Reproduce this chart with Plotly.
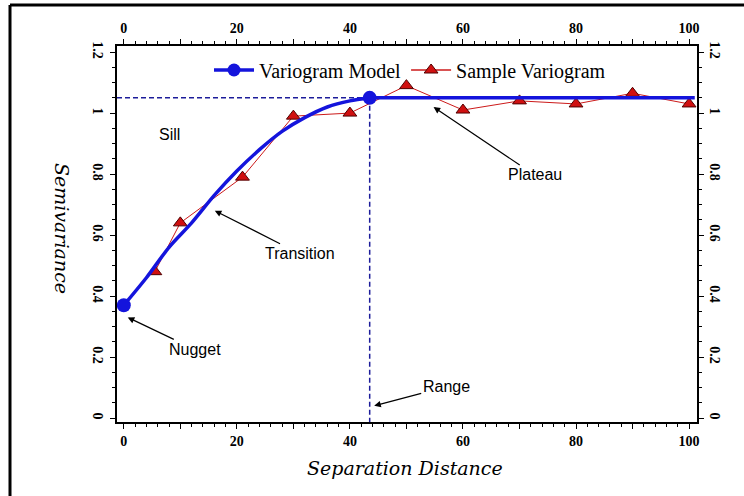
import plotly.graph_objects as go

# ---- data ----
model_x = [0, 4, 8, 12, 16, 20, 24, 28, 32, 36, 40, 43.5, 101]
model_y = [0.37, 0.46, 0.56, 0.64, 0.73, 0.81, 0.88, 0.94, 0.985, 1.02, 1.04, 1.05, 1.05]
model_pts_x = [0, 43.5]
model_pts_y = [0.37, 1.05]
sample_x = [5.5, 10, 21, 30, 40, 50, 60, 70, 80, 90, 100]
sample_y = [0.48, 0.64, 0.79, 0.99, 1.00, 1.09, 1.01, 1.04, 1.03, 1.065, 1.03]
sill = 1.05
range_d = 43.5
x_range = [-1.2, 101.4]
y_range = [-0.013, 1.22]
x_major = [0, 10, 20, 30, 40, 50, 60, 70, 80, 90, 100]
x_labels = ["0", "", "20", "", "40", "", "60", "", "80", "", "100"]
y_major = [0, 0.2, 0.4, 0.6, 0.8, 1.0, 1.2]
y_labels = ["0", "0.2", "0.4", "0.6", "0.8", "1", "1.2"]

BLUE = "#1414dc"
RED = "#cc1a1a"
NAVY = "#1c1c9a"

k = model_x.index(range_d)

fig = go.Figure()
# dashed sill / range guides
fig.add_trace(go.Scatter(x=[x_range[0], range_d], y=[sill, sill], mode="lines",
                         line=dict(color=NAVY, width=1.5, dash="5px,3px"), showlegend=False, hoverinfo="skip"))
fig.add_trace(go.Scatter(x=[range_d, range_d], y=[sill, y_range[0]], mode="lines",
                         line=dict(color=NAVY, width=1.5, dash="5px,3px"), showlegend=False, hoverinfo="skip"))
# sample variogram
fig.add_trace(go.Scatter(x=sample_x, y=sample_y, mode="lines+markers",
                         line=dict(color=RED, width=1),
                         marker=dict(symbol="triangle-up", size=12, color="#d01010",
                                     line=dict(color="#500000", width=1)),
                         showlegend=False))
# model curve (rising part smooth, plateau straight)
fig.add_trace(go.Scatter(x=model_x[:k + 1], y=model_y[:k + 1], mode="lines", line_shape="spline",
                         line=dict(color=BLUE, width=3.5, smoothing=0.8), showlegend=False))
fig.add_trace(go.Scatter(x=model_x[k:], y=model_y[k:], mode="lines",
                         line=dict(color=BLUE, width=3.5), showlegend=False))
fig.add_trace(go.Scatter(x=model_pts_x, y=model_pts_y, mode="markers",
                         marker=dict(symbol="circle", size=14, color=BLUE), showlegend=False))
# legend entries
fig.add_trace(go.Scatter(x=[None], y=[None], mode="lines+markers", name="Variogram Model",
                         line=dict(color=BLUE, width=3.5), marker=dict(size=13, color=BLUE)))
fig.add_trace(go.Scatter(x=[None], y=[None], mode="lines+markers", name="Sample Variogram",
                         line=dict(color=RED, width=1.5),
                         marker=dict(symbol="triangle-up", size=12, color="#d01010",
                                     line=dict(color="#500000", width=1))))
# invisible trace for mirrored axes
fig.add_trace(go.Scatter(x=x_range, y=y_range, xaxis="x2", yaxis="y2", mode="markers",
                         marker=dict(opacity=0), showlegend=False, hoverinfo="skip"))

tickfont = dict(family="Liberation Serif", size=14, color="black")
common_x = dict(range=x_range, tickmode="array", tickvals=x_major,
                ticktext=[f"<b>{t}</b>" if t else "" for t in x_labels],
                ticks="outside", ticklen=5, tickwidth=1.2, tickcolor="black",
                minor=dict(dtick=2, ticks="outside", ticklen=3, tickcolor="black", tickwidth=1),
                showline=True, linecolor="black", linewidth=2, showgrid=False, zeroline=False,
                tickfont=tickfont)
common_y = dict(range=y_range, tickmode="array", tickvals=y_major,
                ticktext=[f"<b>{t}</b>" for t in y_labels], tickangle=90,
                ticks="outside", ticklen=5, tickwidth=1.2, tickcolor="black",
                minor=dict(dtick=0.05, ticks="outside", ticklen=3, tickcolor="black", tickwidth=1),
                showline=True, linecolor="black", linewidth=2, showgrid=False, zeroline=False,
                tickfont=tickfont)

L, R, T, B = 117, 47, 46, 74
W, H = 744, 496
pw, ph = W - L - R, H - T - B

def px(xp):
    return (xp - L) / pw

def py(yp):
    return (H - B - yp) / ph

fig.update_layout(
    width=W, height=H, margin=dict(l=L, r=R, t=T, b=B),
    paper_bgcolor="white", plot_bgcolor="white",
    xaxis=dict(**common_x, side="bottom"),
    xaxis2=dict(**common_x, side="top", overlaying="x", anchor="y"),
    yaxis=dict(**common_y, side="left"),
    yaxis2=dict(**common_y, side="right", overlaying="y", anchor="x"),
    legend=dict(orientation="h", x=px(410), y=py(70), xanchor="center", yanchor="middle",
                font=dict(family="Liberation Serif", size=20, color="black"),
                bgcolor="rgba(255,255,255,0)", itemwidth=40),
    showlegend=True,
)

afont = dict(family="Liberation Sans", size=16, color="black")
arrow = dict(showarrow=True, arrowhead=2, arrowsize=1.1, arrowwidth=1.2, arrowcolor="black",
             font=afont, axref="pixel", ayref="pixel")
fig.add_annotation(x=16.1, y=0.68, text="Transition", ax=85, ay=43, **arrow)
fig.add_annotation(x=0.7, y=0.33, text="Nugget", ax=67, ay=32, **arrow)
fig.add_annotation(x=44.3, y=0.04, text="Range", ax=72, ay=-19, **arrow)
fig.add_annotation(x=54.8, y=1.02, text="Plateau", ax=101, ay=68, **arrow)
fig.add_annotation(x=8.1, y=0.93, text="Sill", showarrow=False, font=afont)

tfont = dict(family="DejaVu Serif", size=19, color="black")
fig.add_annotation(xref="paper", yref="paper", x=px(405), y=py(468), xanchor="center", yanchor="middle",
                   text="<i>Separation Distance</i>", showarrow=False, font=tfont)
fig.add_annotation(xref="paper", yref="paper", x=px(62), y=py(228), xanchor="center", yanchor="middle",
                   text="<i>Semivariance</i>", showarrow=False, font=tfont, textangle=90)

# outer frame
fig.add_shape(type="line", xref="paper", yref="paper", x0=px(10), x1=px(760), y0=py(5), y1=py(5),
              line=dict(color="black", width=3))
fig.add_shape(type="line", xref="paper", yref="paper", x0=px(10), x1=px(10), y0=py(5), y1=py(520),
              line=dict(color="black", width=3))

fig.write_html("out.html")
